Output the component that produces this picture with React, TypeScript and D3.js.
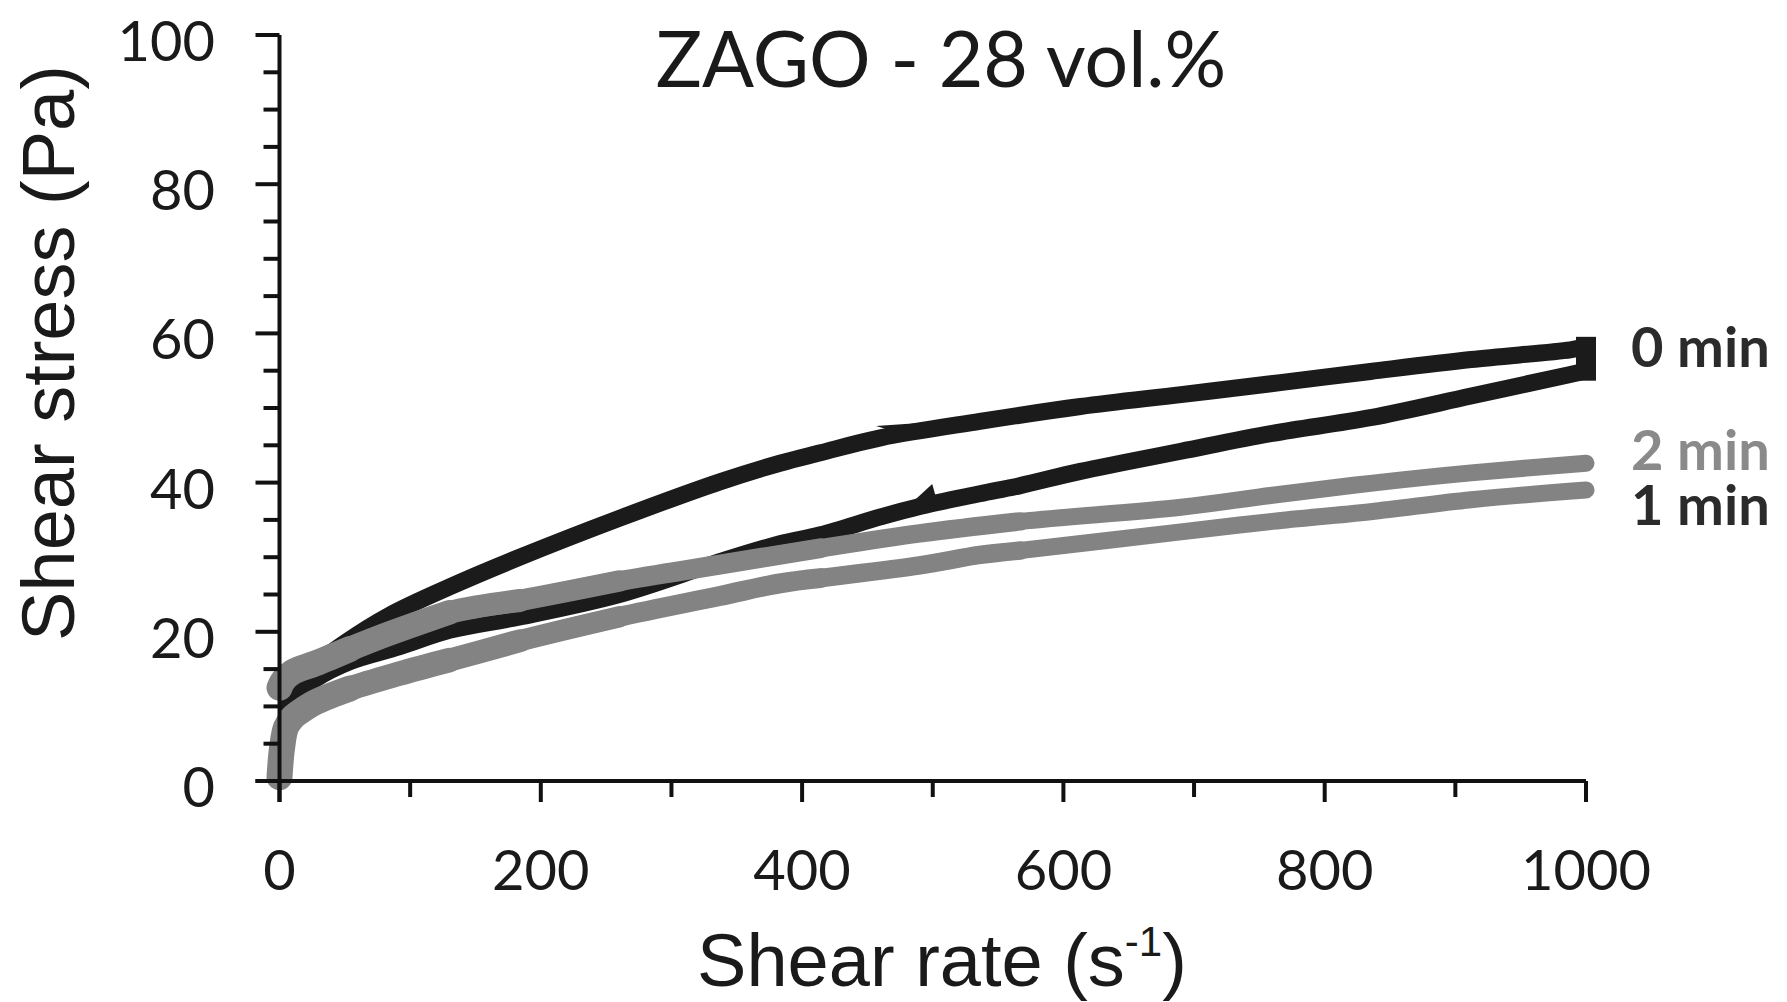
import React from 'react';
import * as d3 from 'd3';

// 0 min, increasing shear rate (lower branch of loop)
const rate0Up = [6, 10, 28, 54, 92, 130, 184, 260, 337, 383, 414, 460, 490, 536, 567, 613, 690, 760, 835, 912, 988, 1000];
const stress0Up = [10.2, 11, 13.7, 16, 18, 20.2, 22, 25, 29.4, 31.8, 33, 35.4, 36.8, 38.5, 39.6, 41.5, 44.2, 46.6, 48.7, 51.6, 54.5, 55];
// 0 min, decreasing shear rate (upper branch of loop)
const rate0Down = [1000, 988, 912, 835, 766, 690, 613, 536, 460, 414, 383, 337, 260, 184, 130, 84, 50, 20, 5];
const stress0Down = [58.2, 57.8, 56.5, 54.9, 53.4, 51.8, 50.2, 48.2, 46, 44, 42.6, 40.1, 35.2, 30, 26, 22.2, 18.5, 14.5, 11.5];
// 1 min
const rate1 = [0, 2, 5, 10, 15, 28, 54, 92, 130, 184, 260, 337, 383, 414, 490, 536, 567, 690, 760, 835, 912, 1000];
const stress1 = [0.5, 4.5, 7.2, 8.5, 9.2, 10.6, 12.4, 14.4, 16.2, 18.8, 22, 24.8, 26.5, 27.2, 28.9, 30.3, 30.9, 33.4, 34.8, 36.1, 37.7, 39];
// 2 min
const rate2 = [0, 3, 10, 28, 54, 80, 130, 184, 260, 337, 414, 490, 567, 690, 760, 835, 912, 1000];
const stress2 = [12.5, 13.5, 14.6, 15.8, 17.7, 19.5, 22.6, 24.2, 26.8, 29, 31.2, 33.2, 34.8, 36.7, 38.3, 39.9, 41.3, 42.6];

const yMajorTicks = [0, 20, 40, 60, 80, 100];
const xMajorTicks = [0, 200, 400, 600, 800, 1000];
const seriesLabels = ['0 min', '2 min', '1 min'];
const seriesLabelValues = [57.1, 43.3, 35.9];
const titleText = 'ZAGO - 28 vol.%';

type P = [number, number];
const zip = (r: number[], s: number[]): P[] => r.map((v, i) => [v, s[i]] as P);

function interp(pts: P[], r: number): number {
  const sorted = [...pts].sort((a, b) => a[0] - b[0]);
  for (let i = 0; i < sorted.length - 1; i++) {
    const [x0, y0] = sorted[i];
    const [x1, y1] = sorted[i + 1];
    if (r >= x0 && r <= x1) return y0 + ((r - x0) / (x1 - x0)) * (y1 - y0);
  }
  return sorted[sorted.length - 1][1];
}

// band width (px) by shear-rate limit: the noisy low-rate part is wider
const grayWidthSteps: [number, number][] = [
  [1000, 17],
  [570, 18.5],
  [420, 20],
  [270, 21.5],
  [190, 23],
  [135, 24.5],
  [60, 26],
];

export default function App() {
  const W = 1787;
  const H = 1002;
  const x = d3.scaleLinear().domain([0, 1000]).range([279.5, 1586]);
  const y = d3.scaleLinear().domain([0, 100]).range([781, 35]);
  const line = d3
    .line<P>()
    .x((d) => x(d[0]))
    .y((d) => y(d[1]))
    .curve(d3.curveCatmullRom.alpha(0.5));

  const up0 = zip(rate0Up, stress0Up);
  const down0 = zip(rate0Down, stress0Down);
  const s1 = zip(rate1, stress1);
  const s2 = zip(rate2, stress2);

  const yMinor = y.ticks(20);
  const xMinor = x.ticks(10);

  const black = '#1b1b1b';
  const gray = '#838383';

  // arrow barbs
  const upx = x(478), upy = y(interp(down0, 478));
  const lpx = x(495), lpy = y(interp(up0, 495));

  // closing segment of the loop at the highest shear rate
  const endSeg: P[] = [up0[up0.length - 1], down0[0]];

  const grayLayers = (pts: P[]) => (
    <g>
      {grayWidthSteps.map(([lim, w]) => (
        <path
          key={lim}
          d={line(pts.filter((d) => d[0] <= lim)) || ''}
          fill="none"
          stroke={gray}
          strokeWidth={w}
          strokeLinecap="round"
          strokeLinejoin="round"
        />
      ))}
    </g>
  );

  const tickFont = 'Lato, "Open Sans", sans-serif';
  const axisFont = '"Liberation Sans", Arial, sans-serif';

  return (
    <svg width={W} height={H} style={{ position: 'absolute', left: 0, top: 0, background: '#fff' }}>
      <rect x={0} y={0} width={W} height={H} fill="#fff" />
      {/* title */}
      <text x={941} y={87} textAnchor="middle" fontFamily={tickFont} fontSize={77} fill="#1a1a1a">
        {titleText}
      </text>

      {/* data: 0 min hysteresis loop */}
      <path d={line(up0) || ''} fill="none" stroke={black} strokeWidth={17} strokeLinejoin="round" strokeLinecap="round" />
      <path d={line(down0) || ''} fill="none" stroke={black} strokeWidth={17} strokeLinejoin="round" strokeLinecap="round" />
      <path d={d3.line<P>().x((d) => x(d[0])).y((d) => y(d[1]))(endSeg) || ''} fill="none" stroke={black} strokeWidth={20} strokeLinecap="square" />
      <path d={`M${upx - 28},${upy - 8} L${upx + 16},${upy - 11} L${upx + 6},${upy + 2} Z`} fill={black} />
      <path d={`M${lpx - 19},${lpy + 2} L${lpx + 6},${lpy - 21} L${lpx + 11},${lpy - 3} Z`} fill={black} />
      {grayLayers(s1)}
      {grayLayers(s2)}

      {/* axes */}
      <g stroke="#111" strokeWidth={4}>
        <line x1={x(0)} x2={x(0)} y1={y(100)} y2={y(0) + 21} />
        <line x1={x(0) - 24} x2={x(1000)} y1={y(0)} y2={y(0)} />
        {yMinor.map((t) => (
          <line key={'yt' + t} x1={x(0) - (t % 20 === 0 ? 24 : 16)} x2={x(0)} y1={y(t)} y2={y(t)} />
        ))}
        {xMinor.map((t) => (
          <line key={'xt' + t} x1={x(t)} x2={x(t)} y1={y(0)} y2={y(0) + (t % 200 === 0 ? 21 : 16)} />
        ))}
      </g>
      {yMajorTicks.map((t) => (
        <text key={'yl' + t} x={215} y={y(t) + 26} textAnchor="end" fontFamily={tickFont} fontSize={56} fill="#1a1a1a">
          {t}
        </text>
      ))}
      {xMajorTicks.map((t) => (
        <text key={'xl' + t} x={x(t)} y={890} textAnchor="middle" fontFamily={tickFont} fontSize={56} fill="#1a1a1a">
          {t}
        </text>
      ))}

      {/* axis titles */}
      <text x={942} y={986} textAnchor="middle" fontFamily={axisFont} fontSize={74} fill="#1a1a1a">
        Shear rate (s
        <tspan fontSize={42} dy={-30}>-1</tspan>
        <tspan dy={30}>)</tspan>
      </text>
      <text
        transform={`translate(74,353) rotate(-90)`}
        textAnchor="middle"
        fontFamily={axisFont}
        fontSize={74}
        fill="#1a1a1a"
      >
        Shear stress (Pa)
      </text>

      {/* series labels */}
      {seriesLabels.map((s, i) => (
        <text
          key={s}
          x={1631}
          y={y(seriesLabelValues[i]) + 12}
          fontFamily={tickFont}
          fontWeight="bold"
          fontSize={56}
          fill={i === 1 ? '#8a8a8a' : '#2b2b2b'}
        >
          {s}
        </text>
      ))}
    </svg>
  );
}
